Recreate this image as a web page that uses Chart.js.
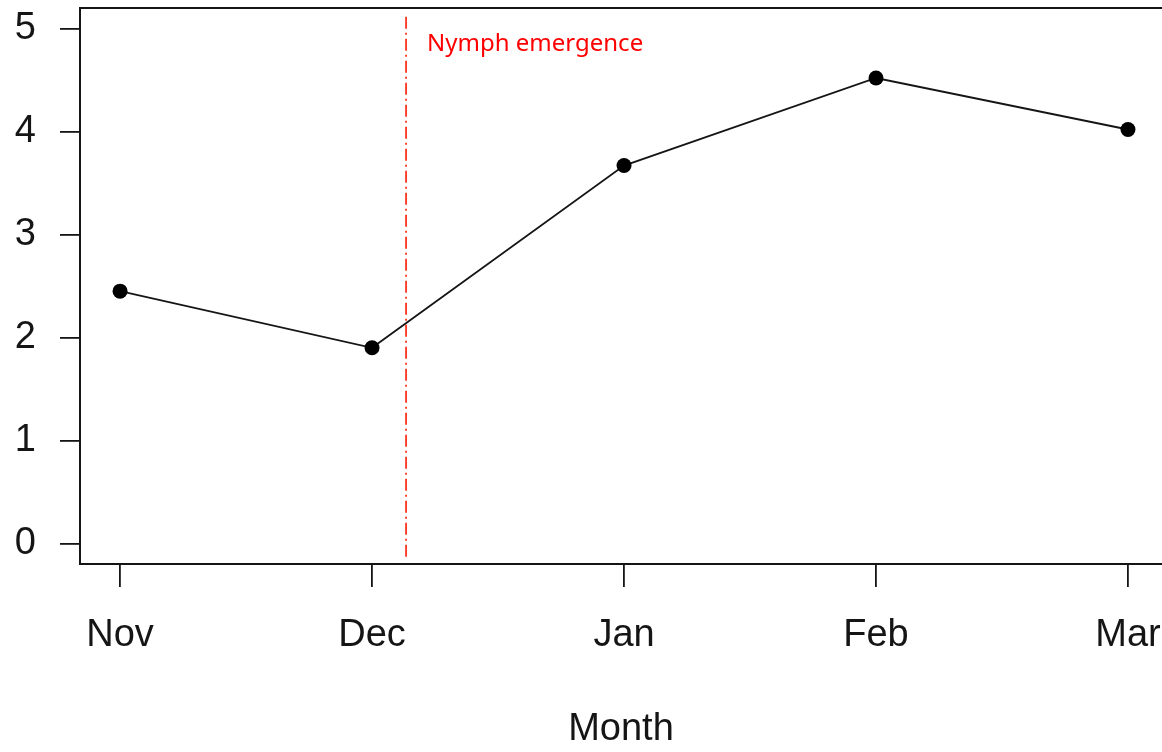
<!DOCTYPE html>
<html>
<head>
<meta charset="utf-8">
<script src="https://cdn.jsdelivr.net/npm/chart.js@4.4.1/dist/chart.umd.min.js"></script>
<style>
  html, body { margin: 0; padding: 0; background: #fff; overflow: hidden; }
  #wrap { width: 1162px; height: 752px; }
</style>
</head>
<body>
<div id="wrap"><canvas id="myCanvas" width="1162" height="752"></canvas></div>
<script>
// data
const months = ["Nov", "Dec", "Jan", "Feb", "Mar"];
const values = [2.45, 1.90, 3.67, 4.52, 4.02];
const yTicks = [0, 1, 2, 3, 4, 5];
const markerX = 2.135;            // red dash-dot line (between Dec and Jan)
const markerSpan = [-0.13, 5.14];
const markerLabel = "Nymph emergence";

const axisFont = { family: "'Liberation Sans Narrow', 'Arial Narrow', 'Liberation Sans', sans-serif", size: 38 };
const ink = "#151515";

// no extra room for the labels, R lets them hang out
const noPad = s => { s.paddingLeft = 0; s.paddingRight = 0; s.paddingTop = 0; s.paddingBottom = 0; };

// box around the plot (right side is cut off in the original) + annotation text
const boxPlugin = {
  id: "box",
  afterDraw(chart) {
    const { ctx, chartArea: a, scales } = chart;
    ctx.save();
    ctx.strokeStyle = ink;
    ctx.lineWidth = 2;
    ctx.beginPath();
    ctx.moveTo(a.right + 2, a.top);
    ctx.lineTo(a.left, a.top);
    ctx.lineTo(a.left, a.bottom);
    ctx.lineTo(a.right + 2, a.bottom);
    ctx.stroke();
    const x = scales.x.getPixelForValue(markerX);
    const y = scales.y.getPixelForValue(markerSpan[1]);
    ctx.fillStyle = "#ff0000";
    ctx.font = "24px 'Noto Sans', sans-serif";
    ctx.textBaseline = "alphabetic";
    ctx.fillText(markerLabel, x + 21, y + 37);
    ctx.restore();
  }
};

const chart = new Chart(document.getElementById("myCanvas").getContext("2d"), {
  type: "line",
  data: {
    datasets: [
      {
        data: values.map((v, i) => ({ x: i + 1, y: v })),
        borderColor: ink,
        backgroundColor: "#000",
        borderWidth: 1.8,
        pointRadius: 7.5,
        pointBorderWidth: 0,
        tension: 0,
      },
      {
        data: markerSpan.map(v => ({ x: markerX, y: v })),
        borderColor: "#ff1a00",
        borderWidth: 1.6,
        borderDash: [12, 4, 2, 4],
        pointRadius: 0,
      },
    ],
  },
  options: {
    responsive: false,
    animation: false,
    layout: { autoPadding: false, padding: { top: 8, right: 0, left: 0, bottom: 0 } },
    plugins: { legend: { display: false }, tooltip: { enabled: false } },
    scales: {
      x: {
        type: "linear",
        min: 0.841,
        max: 5.135,
        afterBuildTicks: s => { s.ticks = months.map((m, i) => ({ value: i + 1 })); },
        afterFit: s => { s.height = 188; noPad(s); },
        ticks: {
          callback: v => months[v - 1],
          font: axisFont,
          color: ink,
          padding: 26,
          maxRotation: 0,
          autoSkip: false,
        },
        grid: { drawOnChartArea: false, tickLength: 23, color: ink, lineWidth: 1.8 },
        border: { display: false },
        title: { display: true, text: "Month", font: axisFont, color: ink, padding: { top: 0, bottom: 0 } },
      },
      y: {
        min: -0.2,
        max: 5.2,
        afterBuildTicks: s => { s.ticks = yTicks.map(v => ({ value: v })); },
        afterFit: s => { s.width = 80; noPad(s); },
        ticks: { font: axisFont, color: ink, padding: 24 },
        grid: { drawOnChartArea: false, tickLength: 20, color: ink, lineWidth: 1.8 },
        border: { display: false },
      },
    },
  },
  plugins: [boxPlugin],
});
</script>
</body>
</html>
